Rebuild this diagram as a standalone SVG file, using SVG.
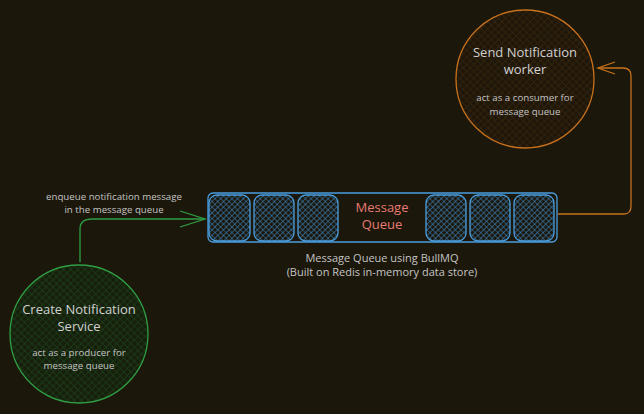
<svg xmlns="http://www.w3.org/2000/svg" width="644" height="414" viewBox="0 0 644 414">
<defs>
<pattern id="hb" width="4" height="4" patternUnits="userSpaceOnUse" patternTransform="rotate(45)">
<rect width="4" height="4" fill="#1b170a"/>
<path d="M0 0H4M0 0V4" stroke="#3d86c6" stroke-width="1.2"/>
</pattern>
<pattern id="ho" width="5" height="5" patternUnits="userSpaceOnUse" patternTransform="rotate(45)">
<rect width="5" height="5" fill="#1f1709"/>
<path d="M0 0H5M0 0V5" stroke="#3f2a10" stroke-width="1"/>
</pattern>
<pattern id="hg" width="5" height="5" patternUnits="userSpaceOnUse" patternTransform="rotate(45)">
<rect width="5" height="5" fill="#16200c"/>
<path d="M0 0H5M0 0V5" stroke="#1f4a1e" stroke-width="1"/>
</pattern>
<marker id="ag" markerWidth="30" markerHeight="24" refX="26" refY="12" orient="auto" markerUnits="userSpaceOnUse">
<path d="M1 4L26 12L1 20" fill="none" stroke="#2f9e44" stroke-width="1.3"/>
</marker>
<marker id="ao" markerWidth="30" markerHeight="24" refX="26" refY="12" orient="auto" markerUnits="userSpaceOnUse">
<path d="M9 6L26 12L9 18" fill="none" stroke="#c7711d" stroke-width="1.3"/>
</marker>
</defs>
<style>
text{font-family:"Open Sans","Liberation Sans",sans-serif;text-anchor:middle}
.t{fill:#d0d0d0;font-size:13px}
.s{fill:#c4c4c4;font-size:9.7px}
.l{fill:#c4c4c4;font-size:11px}
.box{fill:url(#hb);stroke:#4a9ee0;stroke-width:1.3}
</style>
<rect width="644" height="414" fill="#1b170a"/>
<g id="connectors" fill="none" stroke-width="1.3">
<path d="M80 262V229Q80 219 92 219H205" stroke="#2f9e44" marker-end="url(#ag)"/>
<path d="M558 214H624Q631 214 631 206V76Q631 68 623 68H598" stroke="#c7711d" marker-end="url(#ao)"/>
</g>
<g id="enqueue-label">
<text class="s" x="114" y="200">enqueue notification message</text>
<text class="s" x="114" y="213">in the message queue</text>
</g>
<g id="queue">
<rect x="208" y="193" width="349" height="49" rx="5" fill="none" stroke="#4a9ee0" stroke-width="1.3"/>
<rect class="box" x="209" y="195" width="41" height="46" rx="8"/>
<rect class="box" x="254" y="195" width="40" height="46" rx="8"/>
<rect class="box" x="298" y="195" width="40" height="46" rx="8"/>
<rect class="box" x="426" y="195" width="40" height="46" rx="8"/>
<rect class="box" x="470" y="195" width="40" height="46" rx="8"/>
<rect class="box" x="514" y="195" width="40" height="46" rx="8"/>
<text x="382" y="212" fill="#e77b72" font-size="13px">Message</text>
<text x="382" y="229" fill="#e77b72" font-size="13px">Queue</text>
</g>
<g id="queue-label">
<text class="l" x="382" y="262">Message Queue using BullMQ</text>
<text class="l" x="382" y="276">(Built on Redis in-memory data store)</text>
</g>
<g id="send-worker">
<circle cx="525" cy="79" r="69" fill="url(#ho)" stroke="#c7711d" stroke-width="1.3"/>
<text class="t" x="525" y="57">Send Notification</text>
<text class="t" x="525" y="74">worker</text>
<text class="s" x="525" y="101">act as a consumer for</text>
<text class="s" x="525" y="115">message queue</text>
</g>
<g id="create-service">
<circle cx="79" cy="334" r="69" fill="url(#hg)" stroke="#2f9e44" stroke-width="1.3"/>
<text class="t" x="79" y="314">Create Notification</text>
<text class="t" x="79" y="331">Service</text>
<text class="s" x="79" y="356">act as a producer for</text>
<text class="s" x="79" y="369">message queue</text>
</g>
</svg>
